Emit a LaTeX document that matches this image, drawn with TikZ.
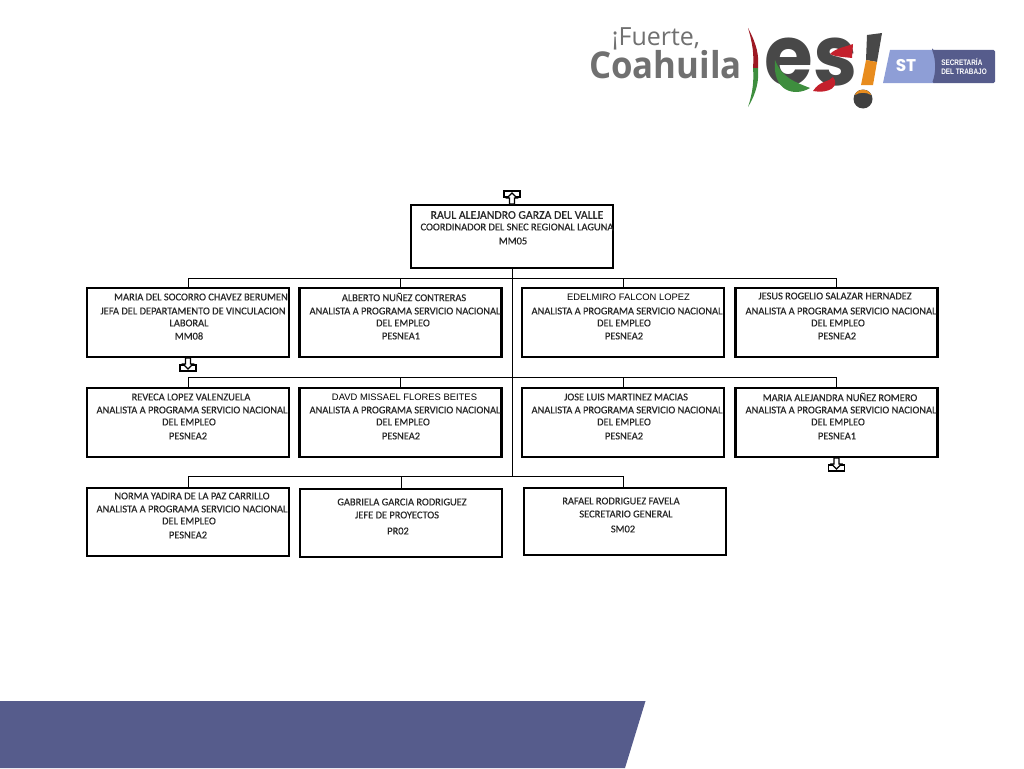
\documentclass[tikz,border=0pt]{standalone}
\usepackage{fontspec}
\usepackage{xcolor}
\setmainfont[RawFeature={embolden=0.5}]{Carlito}
\newfontfamily\thinfont{Liberation Sans}
\newfontfamily\logofont{Poppins}
\newfontfamily\openfont{Open Sans}
\definecolor{bandblue}{RGB}{86,92,140}
\definecolor{stlight}{RGB}{142,158,214}
\definecolor{logogray}{RGB}{112,112,112}
\definecolor{esgray}{RGB}{72,72,72}
\definecolor{esred}{RGB}{196,32,44}
\definecolor{esgreen}{RGB}{62,142,62}
\definecolor{esorange}{RGB}{232,140,30}
\definecolor{inkgray}{RGB}{40,40,40}
\tikzset{
    person/.style={draw=black, line width=2.4pt, fill=white, rectangle, inner sep=0pt, minimum width=202pt, minimum height=69pt},
    line/.style={font=\fontsize{10.4pt}{11pt}\selectfont, text=inkgray, inner sep=0pt, anchor=center},
    thinline/.style={font=\thinfont\fontsize{9.4pt}{10pt}\selectfont, text=black, inner sep=0pt, anchor=center},
    branch/.style={draw=black, line width=0.9pt},
    trayup/.pic={
        \draw[black, line width=1.3pt, fill=white] (-8,-6) rectangle (8,0);
        \draw[black, line width=1.3pt, fill=white] (-2.5,7) -- (-2.5,1) -- (-5,1) -- (0,-4) -- (5,1) -- (2.5,1) -- (2.5,7) -- cycle;
    }
}
\begin{document}
\begin{tikzpicture}[x=1pt, y=-1pt]
        \useasboundingbox (0,0) rectangle (1024,768);
        \fill[bandblue] (0,701) -- (645.5,701) -- (625,768) -- (0,768) -- cycle;
        % logo
        \node[font=\openfont\fontsize{25pt}{25pt}\selectfont, text=logogray, inner sep=0pt] (f) at (656,39) {¡Fuerte,};
        \node[font=\openfont\bfseries\fontsize{37pt}{37pt}\selectfont, text=logogray, inner sep=0pt, xscale=0.94] (c) at (665.5,65) {Coahuila};
        \fill[esred!80!black] (748,28) .. controls (757,45) and (759,55) .. (758,68) -- (753,68) .. controls (754,55) and (753,45) .. (748,28) -- cycle;
        \fill[esgreen] (748,107) .. controls (757,92) and (759,80) .. (758,68) -- (753,68) .. controls (754,80) and (753,92) .. (748,107) -- cycle;
        \node[font=\logofont\bfseries\fontsize{84pt}{84pt}\selectfont, text=esgray, inner sep=0pt, xscale=0.94] (s) at (811,62) {es};
        \fill[esgreen] (775,60) .. controls (782,78) and (795,82) .. (810,88) .. controls (795,97) and (772,92) .. (775,60) -- cycle;
        \fill[esred] (813,91) .. controls (820,80) and (830,82) .. (833,77) .. controls (840,86) and (830,94) .. (813,91) -- cycle;
        \fill[esred] (830,54) .. controls (836,48) and (845,47) .. (853,44) -- (852,58) .. controls (845,57) and (836,57) .. (830,54) -- cycle;
        \fill[esgray] (867,35) -- (882,33) -- (877,62) -- (866,60) -- cycle;
        \fill[esorange] (866,60) -- (877,62) -- (873,85) -- (861,85) -- cycle;
        \fill[black!75] (863,99) circle (9.5);
        \fill[esorange] (855,95) .. controls (857,88) and (869,88) .. (871,95) .. controls (866,92) and (860,92) .. (855,95) -- cycle;
        \fill[stlight] (890,50) -- (934,50) .. controls (938,60) and (938,73) .. (934,83) -- (883,83) -- cycle;
        \fill[bandblue, rounded corners=1.5pt] (932,50) -- (995,50) -- (995,83) -- (932,83) .. controls (936,73) and (936,60) .. (932,50) -- cycle;
        \node[font=\logofont\bfseries\fontsize{17pt}{17pt}\selectfont, text=white, inner sep=0pt] (st) at (906,66) {ST};
        \node[font=\thinfont\bfseries\fontsize{8pt}{9.5pt}\selectfont, text=white, inner sep=0pt, align=left, xscale=0.8] (sd) at (964,66.5) {SECRETARÍA\\DEL TRABAJO};
        % boxes
        \node[person, minimum height=63pt] (t) at (512,236.5) {};
        \node[person] (a) at (188,322.5) {};
        \node[person] (b) at (400.5,322.5) {};
        \node[person] (d) at (623,322.5) {};
        \node[person] (e) at (836.5,322.5) {};
        \node[person] (g) at (188,422.5) {};
        \node[person] (h) at (400.5,422.5) {};
        \node[person] (i) at (623,422.5) {};
        \node[person] (j) at (836.5,422.5) {};
        \node[person, minimum height=68pt] (k) at (188,522) {};
        \node[person, minimum height=68pt] (l) at (401,523) {};
        \node[person, minimum height=67pt] (m) at (625,521.5) {};
        % connectors
        \coordinate (u) at (512,278);
        \coordinate (v) at (512,377.5);
        \coordinate (w) at (512,476.5);
        \draw[branch] (t.south) -- (w);
        \draw[branch] (a.north) |- (u);
        \draw[branch] (b.north) |- (u);
        \draw[branch] (d.north) |- (u);
        \draw[branch] (e.north) |- (u);
        \draw[branch] (g.north) |- (v);
        \draw[branch] (h.north) |- (v);
        \draw[branch] (i.north) |- (v);
        \draw[branch] (j.north) |- (v);
        \draw[branch] (k.north) |- (w);
        \draw[branch] (l.north) |- (w);
        \draw[branch] ([xshift=-2pt]m.north) |- (w);
        % trays
        \pic at (512,197) {trayup};
        \pic[yscale=-1] at (188,365) {trayup};
        \pic[yscale=-1] at (836.5,465) {trayup};
        % top box
        \node[line, font=\fontsize{11.8pt}{12pt}\selectfont] (t1) at (517,215) {RAUL ALEJANDRO GARZA DEL VALLE};
        \node[line] (t2) at (517,227) {COORDINADOR DEL SNEC REGIONAL LAGUNA};
        \node[line] (t3) at (513,241) {MM05};
        % first row
        \node[line] (a1) at (201,297) {MARIA DEL SOCORRO CHAVEZ BERUMEN};
        \node[line] (a2) at (193,311) {JEFA DEL DEPARTAMENTO DE VINCULACION};
        \node[line] (a3) at (189,323) {LABORAL};
        \node[line] (a4) at (189,336) {MM08};
        \node[line] (b1) at (404,297) {ALBERTO NUÑEZ CONTRERAS};
        \node[line] (b2) at (405,311) {ANALISTA A PROGRAMA SERVICIO NACIONAL};
        \node[line] (b3) at (403,323) {DEL EMPLEO};
        \node[line] (b4) at (401,336) {PESNEA1};
        \node[thinline] (d1) at (628.5,297) {EDELMIRO FALCON LOPEZ};
        \node[line] (d2) at (627,311) {ANALISTA A PROGRAMA SERVICIO NACIONAL};
        \node[line] (d3) at (624,323) {DEL EMPLEO};
        \node[line] (d4) at (624,336) {PESNEA2};
        \node[line] (e1) at (835,296) {JESUS ROGELIO SALAZAR HERNADEZ};
        \node[line] (e2) at (841,311) {ANALISTA A PROGRAMA SERVICIO NACIONAL};
        \node[line] (e3) at (838,323) {DEL EMPLEO};
        \node[line] (e4) at (837,336) {PESNEA2};
        % second row
        \node[line] (g1) at (191,397) {REVECA LOPEZ VALENZUELA};
        \node[line] (g2) at (192,410) {ANALISTA A PROGRAMA SERVICIO NACIONAL};
        \node[line] (g3) at (189,422) {DEL EMPLEO};
        \node[line] (g4) at (188,436) {PESNEA2};
        \node[thinline] (h1) at (404.5,397) {DAVD MISSAEL FLORES BEITES};
        \node[line] (h2) at (405,410) {ANALISTA A PROGRAMA SERVICIO NACIONAL};
        \node[line] (h3) at (403,422) {DEL EMPLEO};
        \node[line] (h4) at (401,436) {PESNEA2};
        \node[line] (i1) at (626,397) {JOSE LUIS MARTINEZ MACIAS};
        \node[line] (i2) at (627,410) {ANALISTA A PROGRAMA SERVICIO NACIONAL};
        \node[line] (i3) at (624,422) {DEL EMPLEO};
        \node[line] (i4) at (624,436) {PESNEA2};
        \node[line] (j1) at (840,397) {MARIA ALEJANDRA NUÑEZ ROMERO};
        \node[line] (j2) at (841,410) {ANALISTA A PROGRAMA SERVICIO NACIONAL};
        \node[line] (j3) at (838,422) {DEL EMPLEO};
        \node[line] (j4) at (837,436) {PESNEA1};
        % third row
        \node[line] (k1) at (192,496) {NORMA YADIRA DE LA PAZ CARRILLO};
        \node[line] (k2) at (192,509) {ANALISTA A PROGRAMA SERVICIO NACIONAL};
        \node[line] (k3) at (189,521) {DEL EMPLEO};
        \node[line] (k4) at (188,535) {PESNEA2};
        \node[line] (l1) at (402,502) {GABRIELA GARCIA RODRIGUEZ};
        \node[line] (l2) at (397,515) {JEFE DE PROYECTOS};
        \node[line] (l3) at (398,531) {PR02};
        \node[line] (m1) at (621,501) {RAFAEL RODRIGUEZ FAVELA};
        \node[line] (m2) at (626,514) {SECRETARIO GENERAL};
        \node[line] (m3) at (623,529) {SM02};
    \end{tikzpicture}
\end{document}
